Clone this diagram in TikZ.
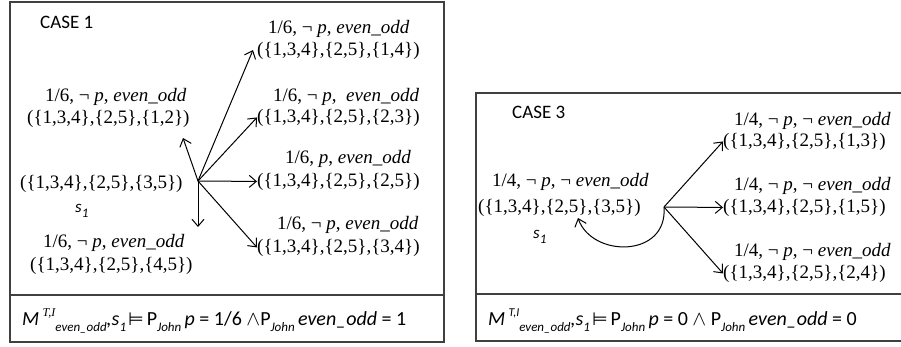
\documentclass[tikz,border=0pt]{standalone}
\usepackage{fontspec}
\setmainfont{Liberation Serif}
\newfontfamily\calib{Carlito}
\newfontfamily\dvs{DejaVu Sans}
\usetikzlibrary{arrows.meta}
\newcommand{\mysup}[1]{\raisebox{0.45em}{\fontsize{12}{12}\selectfont #1}}
\newcommand{\mysub}[1]{\raisebox{-0.3em}{\fontsize{13}{13}\selectfont #1}}
\newcommand{\mymodels}{\hspace{2pt}{\dvs\fontsize{18}{20}\selectfont ⊨}\hspace{3pt}}
\begin{document}
\begin{tikzpicture}[x=1pt,y=-1pt,
  box/.style={draw=black!75,line width=1.3pt},
  txt/.style={inner sep=0pt,anchor=base west,font=\fontsize{19}{23}\selectfont},
  casel/.style={inner sep=0pt,anchor=base west,font=\calib\fontsize{19}{22}\selectfont},
  sname/.style={inner sep=0pt,anchor=base west,font=\calib\itshape\fontsize{17}{20}\selectfont},
  form/.style={inner sep=0pt,anchor=base west,font=\calib\fontsize{20}{24}\selectfont},
  arr/.style={-{Straight Barb[length=7pt,width=12pt,line width=1pt]},line width=1pt}]
\useasboundingbox (0,0) rectangle (901,346);
% boxes
\draw[box] (10,2) rectangle (444,342);
\draw[box] (10,295) -- (444,295);
\draw[box] (902,93) -- (476,93) -- (476,341) -- (902,341);
\draw[box] (476,294) -- (902,294);
% CASE 1
\node[casel] (c1) at (40,28) {CASE 1};
\node[txt] (a1) at (268,33) {1/6, ¬ \textit{p}, \textit{even\_odd}};
\node[txt] (a2) at (257,55) {(\{1,3,4\},\{2,5\},\{1,4\})};
\node[txt] (b1) at (273,101) {1/6, ¬ \textit{p}, \ \textit{even\_odd}};
\node[txt] (b2) at (257,122) {(\{1,3,4\},\{2,5\},\{2,3\})};
\node[txt] (cc1) at (285,163) {1/6, \textit{p}, \textit{even\_odd}};
\node[txt] (cc2) at (257,186) {(\{1,3,4\},\{2,5\},\{2,5\})};
\node[txt] (d1) at (277,229) {1/6, ¬ \textit{p}, \textit{even\_odd}};
\node[txt] (d2) at (257,252) {(\{1,3,4\},\{2,5\},\{3,4\})};
\node[txt] (l1) at (45,101) {1/6, ¬ \textit{p}, \textit{even\_odd}};
\node[txt] (l2) at (27,123) {(\{1,3,4\},\{2,5\},\{1,2\})};
\node[txt] (st) at (20,188) {(\{1,3,4\},\{2,5\},\{3,5\})};
\node[sname] (s1) at (75,212) {s\mysub{1}};
\node[txt] (m1) at (43,247) {1/6, ¬ \textit{p}, \textit{even\_odd}};
\node[txt] (m2) at (30,270) {(\{1,3,4\},\{2,5\},\{4,5\})};
\coordinate (hub) at (198,181);
\coordinate (up) at (183,138);
\coordinate (down) at (198,227);
\coordinate (ta) at (253,50);
\draw[arr] (hub) -- (ta);
\draw[arr] (hub) -- (b2.west);
\draw[arr] (hub) -- (cc2.west);
\draw[arr] (hub) -- (d2.west);
\draw[arr] (hub) -- (up);
\draw[arr] (hub) -- (down);
\node[form] (f1) at (22,325) {{\itshape M}\,\mysup{\rmfamily\itshape T,I}\mysub{\itshape even\_odd}{\itshape ,s}\mysub{\itshape 1}\mymodels P\mysub{\itshape John}\,{\itshape p} = 1/6 $\wedge$P\mysub{\itshape John}\,{\itshape even\_odd} = 1};
% CASE 3
\node[casel] (c3) at (512,118) {CASE 3};
\node[txt] (r1) at (734,125) {1/4, ¬ \textit{p}, ¬ \textit{even\_odd}};
\node[txt] (r2) at (723,146) {(\{1,3,4\},\{2,5\},\{1,3\})};
\node[txt] (r3) at (734,190) {1/4, ¬ \textit{p}, ¬ \textit{even\_odd}};
\node[txt] (r4) at (723,212) {(\{1,3,4\},\{2,5\},\{1,5\})};
\node[txt] (r5) at (734,256) {1/4, ¬ \textit{p}, ¬ \textit{even\_odd}};
\node[txt] (r6) at (723,278) {(\{1,3,4\},\{2,5\},\{2,4\})};
\node[txt] (q1) at (492,186) {1/4, ¬ \textit{p}, ¬ \textit{even\_odd}};
\node[txt] (q2) at (478,212) {(\{1,3,4\},\{2,5\},\{3,5\})};
\node[sname] (s3) at (533,238) {s\mysub{1}};
\coordinate (hub2) at (664,207);
\coordinate (back) at (578,218);
\draw[arr] (hub2) -- (r2.west);
\draw[arr] (hub2) -- (r4.west);
\draw[arr] (hub2) -- (r6.west);
\draw[arr] (hub2) .. controls (668,258) and (592,258) .. (back);
\node[form] (f3) at (488,325) {{\itshape M}\,\mysup{\itshape T,I}\mysub{\itshape even\_odd}{\itshape ,s}\mysub{\itshape 1}\mymodels P\mysub{\itshape John}\,{\itshape p} = 0 $\wedge$ P\mysub{\itshape John}\,{\itshape even\_odd} = 0};
\end{tikzpicture}
\end{document}
